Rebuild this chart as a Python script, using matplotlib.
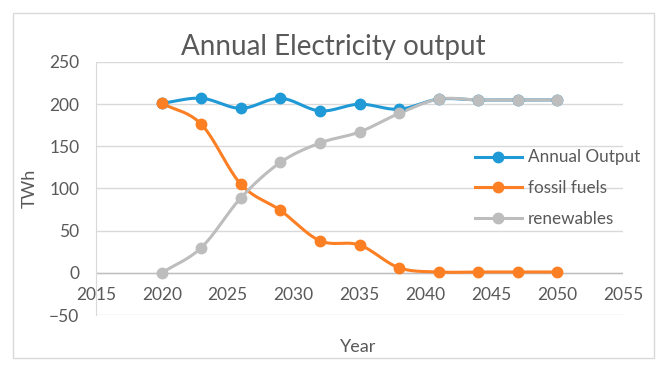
"""
Annual electricity output chart (Excel-style line chart with smoothed lines).
"""

import numpy as np
import matplotlib
matplotlib.use("Agg")
import matplotlib.pyplot as plt
from matplotlib.patches import Rectangle

years = [2020, 2023, 2026, 2029, 2032, 2035, 2038, 2041, 2044, 2047, 2050]
annual_output = [201, 207, 195, 207, 192, 200, 194, 206, 205, 205, 205]
fossil_fuels = [201, 176, 105, 74, 38, 33, 6, 1, 1, 1, 1]
renewables = [0, 30, 89, 131, 154, 167, 189, 206, 205, 205, 205]

series_names = ['Annual Output', 'fossil fuels', 'renewables']
series_colors = ['#1f9ad6', '#fd7f23', '#bdbdbd']

x_ticks = [2015, 2020, 2025, 2030, 2035, 2040, 2045, 2050, 2055]
y_ticks = [-50, 0, 50, 100, 150, 200, 250]

text_color = '#595959'
grid_color = '#d9d9d9'
plt.rcParams['font.family'] = ['Lato', 'DejaVu Sans']


def smooth(xs, ys, n=20):
    # Catmull-Rom curve through the points, similar to Excel "smoothed line"
    xs = np.asarray(xs, float)
    ys = np.asarray(ys, float)
    px = np.concatenate([[2 * xs[0] - xs[1]], xs, [2 * xs[-1] - xs[-2]]])
    py = np.concatenate([[2 * ys[0] - ys[1]], ys, [2 * ys[-1] - ys[-2]]])
    out_x, out_y = [], []
    t = np.linspace(0, 1, n, endpoint=False)
    for i in range(1, len(px) - 2):
        for arr, out in ((px, out_x), (py, out_y)):
            p0, p1, p2, p3 = arr[i - 1], arr[i], arr[i + 1], arr[i + 2]
            seg = 0.5 * ((2 * p1) + (-p0 + p2) * t
                         + (2 * p0 - 5 * p1 + 4 * p2 - p3) * t ** 2
                         + (-p0 + 3 * p1 - 3 * p2 + p3) * t ** 3)
            out.extend(seg)
    out_x.append(xs[-1])
    out_y.append(ys[-1])
    return out_x, out_y


fig = plt.figure(figsize=(6.66, 3.70), dpi=100)
ax = fig.add_axes([96 / 666, 1 - 315 / 370, (623 - 96) / 666, (315 - 62) / 370])

# outer chart border
fig.patches.append(Rectangle((13 / 666, 1 - 358 / 370), (654 - 13) / 666, (358 - 13) / 370,
                             transform=fig.transFigure, fill=False,
                             edgecolor='#d9d9d9', linewidth=1))

lw, ms = 2.2, 7.5
for name, vals, color in zip(series_names, [annual_output, fossil_fuels, renewables], series_colors):
    sx, sy = smooth(years, vals)
    ax.plot(sx, sy, color=color, linewidth=lw, solid_capstyle='round', zorder=3)
    ax.plot(years, vals, 'o', color=color, markersize=ms, zorder=4)
    ax.plot([], [], '-o', color=color, linewidth=lw, markersize=ms, label=name)

ax.set_xlim(2015, 2055)
ax.set_ylim(-50, 250)
ax.set_yticks(y_ticks)
ax.set_xticks(x_ticks)
ax.grid(axis='y', color=grid_color, linewidth=1)
ax.set_axisbelow(True)
ax.axhline(0, color='#bfbfbf', linewidth=1, zorder=2)

for side in ['top', 'right', 'bottom']:
    ax.spines[side].set_visible(False)
ax.spines['left'].set_color(grid_color)

fs = 12.5
ax.tick_params(axis='y', length=0, labelsize=fs, labelcolor=text_color, pad=12)
ax.tick_params(axis='x', length=0, labelbottom=False)
# x tick labels sit just below the zero line, as in Excel
for v in x_ticks:
    ax.text(v, -26, str(v), ha='center', va='center', fontsize=fs, color=text_color)

ax.set_ylabel('TWh', fontsize=13, color=text_color, labelpad=8)
fig.text(358 / 666, 1 - 347 / 370, 'Year', ha='center', va='center', fontsize=13, color=text_color)
fig.text(333 / 666, 1 - 47 / 370, 'Annual Electricity output', ha='center', va='center',
         fontsize=20, color=text_color)

leg = ax.legend(loc='upper left', bbox_to_anchor=(0.69, 0.715), frameon=False,
                fontsize=12.3, labelcolor=text_color, handlelength=2.75,
                handletextpad=0.35, labelspacing=0.85)

fig.savefig('out.png', dpi=100)
